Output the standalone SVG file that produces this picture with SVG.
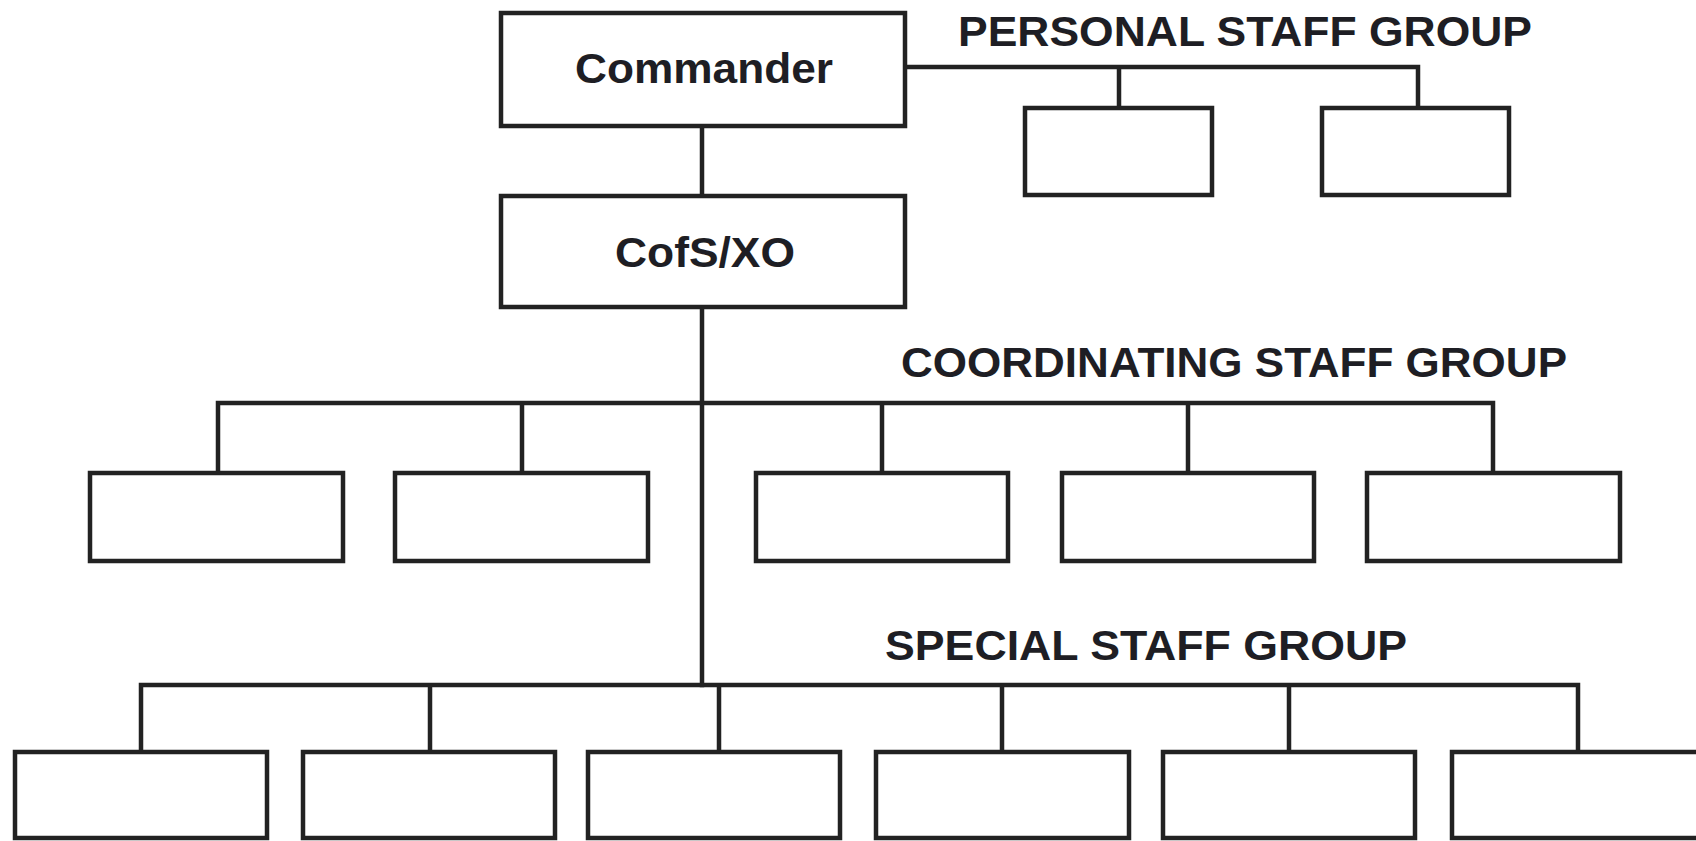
<svg xmlns="http://www.w3.org/2000/svg" width="1696" height="841" viewBox="0 0 1696 841">
<style>
.box{fill:#fff;stroke:#222;stroke-width:4.5}
.ln{fill:none;stroke:#222;stroke-width:4.5;stroke-linecap:square}
.t{font-family:"Liberation Sans",Arial,sans-serif;font-weight:bold;font-size:42px;fill:#1e1e24}
</style>
<rect width="1696" height="841" fill="#fff"/>
<g id="connectors">
<path class="ln" d="M702 126V196M702 307V685"/>
<path class="ln" d="M905 67H1418V108M1119 67V108"/>
<path class="ln" d="M218 403H1493V473M218 403V473M522 403V473M882 403V473M1188 403V473"/>
<path class="ln" d="M141 685H1578V752M141 685V752M430 685V752M719 685V752M1002 685V752M1289 685V752"/>
</g>
<g id="commander"><rect class="box" x="501" y="13" width="404" height="113"/><text class="t" x="704" y="83" text-anchor="middle" textLength="258" lengthAdjust="spacingAndGlyphs">Commander</text></g>
<g id="cofs"><rect class="box" x="501" y="196" width="404" height="111"/><text class="t" x="705" y="267" text-anchor="middle" textLength="180" lengthAdjust="spacingAndGlyphs">CofS/XO</text></g>
<g id="personal-label"><text class="t" x="958" y="46" textLength="574" lengthAdjust="spacingAndGlyphs">PERSONAL STAFF GROUP</text></g>
<g id="personal-1"><rect class="box" x="1025" y="108" width="187" height="87"/></g>
<g id="personal-2"><rect class="box" x="1322" y="108" width="187" height="87"/></g>
<g id="coord-label"><text class="t" x="901" y="377" textLength="666" lengthAdjust="spacingAndGlyphs">COORDINATING STAFF GROUP</text></g>
<g id="coord-1"><rect class="box" x="90" y="473" width="253" height="88"/></g>
<g id="coord-2"><rect class="box" x="395" y="473" width="253" height="88"/></g>
<g id="coord-3"><rect class="box" x="756" y="473" width="252" height="88"/></g>
<g id="coord-4"><rect class="box" x="1062" y="473" width="252" height="88"/></g>
<g id="coord-5"><rect class="box" x="1367" y="473" width="253" height="88"/></g>
<g id="special-label"><text class="t" x="885" y="660" textLength="522" lengthAdjust="spacingAndGlyphs">SPECIAL STAFF GROUP</text></g>
<g id="special-1"><rect class="box" x="15" y="752" width="252" height="86"/></g>
<g id="special-2"><rect class="box" x="303" y="752" width="252" height="86"/></g>
<g id="special-3"><rect class="box" x="588" y="752" width="252" height="86"/></g>
<g id="special-4"><rect class="box" x="876" y="752" width="253" height="86"/></g>
<g id="special-5"><rect class="box" x="1163" y="752" width="252" height="86"/></g>
<g id="special-6"><rect class="box" x="1452" y="752" width="252" height="86"/></g>
</svg>
